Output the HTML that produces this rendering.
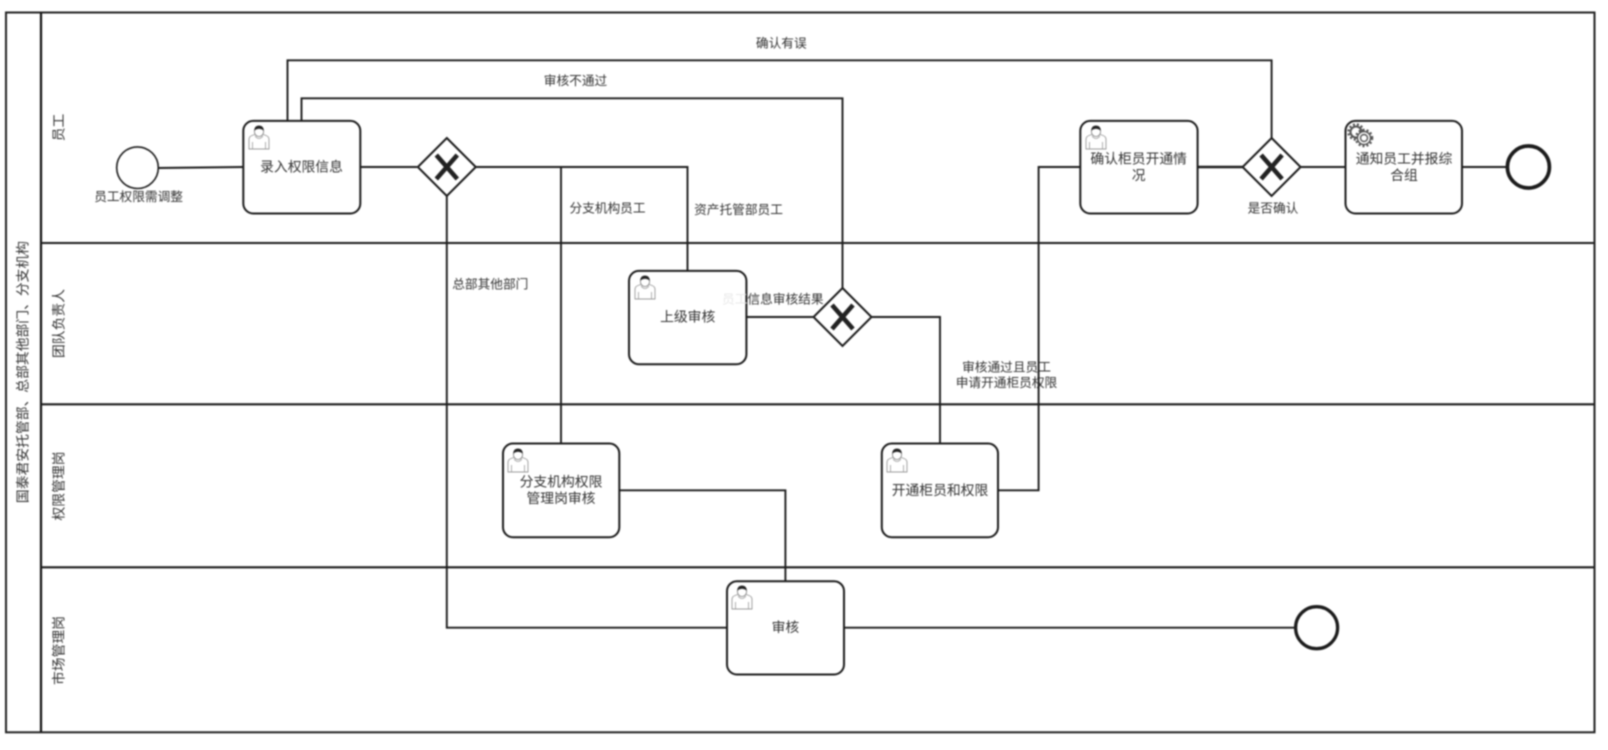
<!DOCTYPE html>
<html><head><meta charset="utf-8"><style>
html,body{margin:0;padding:0;background:#fff;width:1608px;height:750px;overflow:hidden}
svg{display:block;filter:blur(.7px)}
text{font-family:"Liberation Sans","Noto Sans CJK SC",sans-serif;fill:#333;text-anchor:middle;dominant-baseline:central}
.t{font-size:13.8px}.l{font-size:12.7px}.s{font-size:13.8px}
.b{fill:#fff;stroke:#1c1c1c;stroke-width:2}
.c{fill:none;stroke:#1c1c1c;stroke-width:1.9}
.x{stroke:#222;stroke-width:4.6;stroke-linecap:butt}
</style></head><body>
<svg width="1608" height="750" viewBox="0 0 1608 750" xmlns="http://www.w3.org/2000/svg">
<defs>
<g id="u" fill="none">
<path d="M1 24V14.5Q1 11.5 4 10.5L8 9V6.5H14V9L18 10.5Q21 11.5 21 14.5V24Z" fill="#fff" stroke="#999" stroke-width=".9"/>
<path d="M4.500 24V17M17.500 24V17M7 11Q11 16 15 11" stroke="#999" stroke-width=".8"/>
<ellipse cx="11" cy="6.500" rx="4.600" ry="5" fill="#fff" stroke="#777" stroke-width=".8"/>
<path d="M6.200 5.500Q6.500 .5 11 .5Q15.500 .5 15.800 5.500Q11 2 6.200 5.500Z" fill="#222"/>
</g>
<g id="d"><path d="M0-29L29 0L0 29L-29 0Z" fill="#fff" stroke="#1c1c1c" stroke-width="2"/><path class="x" d="M-10.500-12L10.500 12M10.500-12L-10.500 12"/></g>
</defs>
<rect x="6" y="12.500" width="1588.500" height="719.800" fill="#fff" stroke="#222" stroke-width="2"/>
<path d="M41 12.500V732" stroke="#111" stroke-width="2.200" fill="none"/>
<path d="M41 243H1594M41 404.300H1594M41 567.300H1594" stroke="#1c1c1c" stroke-width="2.100" fill="none"/>

<text class="s" transform="translate(23 372) rotate(-90)">国泰君安托管部、总部其他部门、分支机构</text>
<text class="s" transform="translate(59 127.500) rotate(-90)">员工</text>
<text class="s" transform="translate(59 323.500) rotate(-90)">团队负责人</text>
<text class="s" transform="translate(59 486) rotate(-90)">权限管理岗</text>
<text class="s" transform="translate(59 650.500) rotate(-90)">市场管理岗</text>

<text class="l" x="1006.500" y="367.500">审核通过且员工</text>
<text class="l" x="1006.500" y="383.200">申请开通柜员权限</text>

<g class="c">
<path class="c" d="M158 168L243 167"/>
<path class="c" d="M360 167H417"/>
<path class="c" d="M287.500 120.700V60.300H1271.600V138"/>
<path class="c" d="M301.500 120.700V98.300H842.500V288"/>
<path class="c" d="M475.400 167H687.500V270.700"/>
<path class="c" d="M561 167V443.300"/>
<path class="c" d="M446.800 196V627.700H727"/>
<path class="c" d="M746.400 317H813.500"/>
<path class="c" d="M871.500 317H940V443.300"/>
<path class="c" d="M619.300 490.300H785.400V581"/>
<path class="c" d="M998 490.300H1038.600V167H1080"/>
<path class="c" d="M844 627.700H1295"/>
<path class="c" d="M1197.300 167H1242.600" style="stroke-width:2.400"/>
<path class="c" d="M1300.600 167H1345.500"/>
<path class="c" d="M1462 167H1507"/>
</g>

<circle cx="137.500" cy="167.700" r="20.800" class="b" style="stroke-width:1.600"/>
<circle cx="1316.600" cy="627.700" r="21" fill="#fff" stroke="#1c1c1c" stroke-width="3.300"/>
<circle cx="1528.400" cy="167" r="21" fill="#fff" stroke="#1c1c1c" stroke-width="3.700"/>

<use href="#d" x="446.800" y="167"/>
<use href="#d" x="842.500" y="317"/>
<use href="#d" x="1271.600" y="167"/>

<rect class="b" x="243.300" y="120.900" width="117" height="92.600" rx="10"/>
<rect class="b" x="629" y="270.900" width="117.400" height="93.300" rx="10"/>
<rect class="b" x="503" y="443.500" width="116.300" height="93.700" rx="10"/>
<rect class="b" x="881.800" y="443.500" width="116.200" height="93.700" rx="10"/>
<rect class="b" x="727" y="581.200" width="117" height="93.300" rx="10"/>
<rect class="b" x="1080.300" y="120.900" width="117.300" height="92.600" rx="10"/>
<rect class="b" x="1345.500" y="120.900" width="116.500" height="92.600" rx="10"/>

<use href="#u" x="248" y="125"/>
<use href="#u" x="634" y="275"/>
<use href="#u" x="507" y="448"/>
<use href="#u" x="886" y="448"/>
<use href="#u" x="731" y="585"/>
<use href="#u" x="1085" y="125"/>
<g fill="none" stroke="#555">
<circle cx="1356" cy="132" r="5.500" stroke-width="2"/>
<circle cx="1356" cy="132" r="7.500" stroke-width="2.500" stroke-dasharray="2 2"/>
<circle cx="1364" cy="138" r="6.500" fill="#fff" stroke-width="1.400"/>
<circle cx="1364" cy="138" r="3.500" stroke-width="1.400"/>
<circle cx="1364" cy="138" r="8" stroke-width="2.500" stroke-dasharray="2 2"/>
</g>

<text class="l" x="772.800" y="299.500"><tspan style="fill:#e8e8e8">员工</tspan>信息审核结果</text>

<text class="t" x="301.500" y="167">录入权限信息</text>
<text class="t" x="687.700" y="317">上级审核</text>
<text class="t" x="561" y="482">分支机构权限</text>
<text class="t" x="561" y="498.600">管理岗审核</text>
<text class="t" x="940" y="490.600">开通柜员和权限</text>
<text class="t" x="785.400" y="627.600">审核</text>
<text class="t" x="1138.700" y="159.200">确认柜员开通情</text>
<text class="t" x="1138.700" y="175.500">况</text>
<text class="t" x="1404" y="159.200">通知员工并报综</text>
<text class="t" x="1404" y="175.500">合组</text>

<text class="l" x="138.600" y="197">员工权限需调整</text>
<text class="l" x="781.300" y="43.400">确认有误</text>
<text class="l" x="575.500" y="81">审核不通过</text>
<text class="l" x="490.300" y="284.400">总部其他部门</text>
<text class="l" x="607.500" y="208.400">分支机构员工</text>
<text class="l" x="738.500" y="210">资产托管部员工</text>
<text class="l" x="1273" y="208.700">是否确认</text>
</svg>
</body></html>
